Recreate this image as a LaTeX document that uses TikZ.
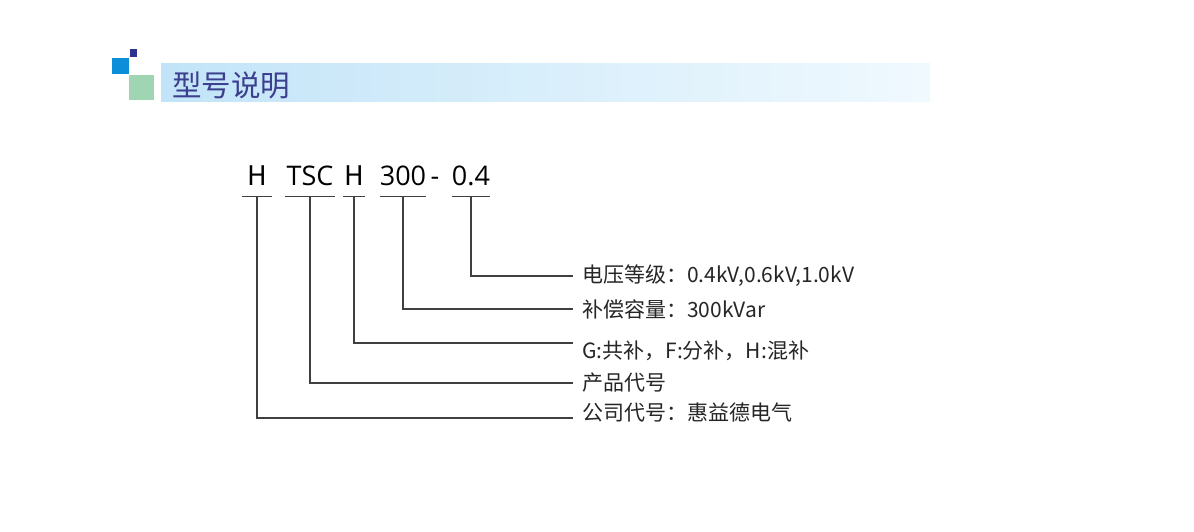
\documentclass[tikz,border=0pt]{standalone}
\usepackage{fontspec}
\setmainfont{Open Sans}
\newfontfamily\cjk{Noto Sans CJK SC}
\definecolor{titleblue}{HTML}{3B3F8E}
\definecolor{sqdark}{HTML}{2E3192}
\definecolor{sqblue}{HTML}{0C8FD8}
\definecolor{sqgreen}{HTML}{A0D5B3}
\definecolor{bannerL}{HTML}{C2E4F8}
\definecolor{bannerR}{HTML}{F0F9FE}
\tikzset{
 code/.style={font=\fontsize{27}{27}\selectfont, inner sep=0pt, text height=18pt, text depth=11pt, minimum width=#1, anchor=base},
 note/.style={font=\cjk\fontsize{21}{21}\selectfont, inner sep=0pt, anchor=west, text=black!85},
 link/.style={draw=black!75, line width=1.2pt}
}
\begin{document}
\begin{tikzpicture}[x=1pt,y=-1pt]
 \fill[white] (0,0) rectangle (1194,531);
 \useasboundingbox (0,0) rectangle (1194,531);
 % title bar
 \fill[sqdark] (130,49) rectangle (137,57);
 \fill[sqblue] (112,58) rectangle (129,74);
 \fill[sqgreen] (129,75) rectangle (154,100);
 \shade[left color=bannerL, right color=bannerR] (161,63) rectangle (930,101);
 \node (title) at (172,85)[anchor=west, inner sep=0pt, font=\cjk\fontsize{29.5}{29.5}\selectfont, text=titleblue]{型号说明};

 % model code
 \node (h1) at (257,185)[code=30pt]{\cjk H};
 \node (tsc) at (310,185)[code=50pt]{TSC};
 \node (h2) at (354,185)[code=22pt]{\cjk H};
 \node (p300) at (403,185)[code=40pt]{300};
 \node (dash) at (435,185)[code=0pt]{-};
 \node (p04) at (471,185)[code=38pt]{0.4};

 % meanings
 \node (voltage) at (582,276)[note]{电压等级：0.4kV,0.6kV,1.0kV};
 \node (capacity) at (582,309)[note]{补偿容量：300kVar};
 \node (mode) at (582,351)[note]{G:共补，F:分补，H:混补};
 \node (product) at (582,383)[note]{产品代号};
 \node (company) at (582,413)[note]{公司代号：惠益德电气};

 \foreach \c/\n/\dy in {p04/voltage/0, p300/capacity/0, h2/mode/8, tsc/product/0, h1/company/-5}
 {
     \draw[link] (\c.south west)--(\c.south east);
     \draw[link] (\c.south)|-([xshift=-9pt,yshift=\dy pt]\n.west);
 }
\end{tikzpicture}
\end{document}
